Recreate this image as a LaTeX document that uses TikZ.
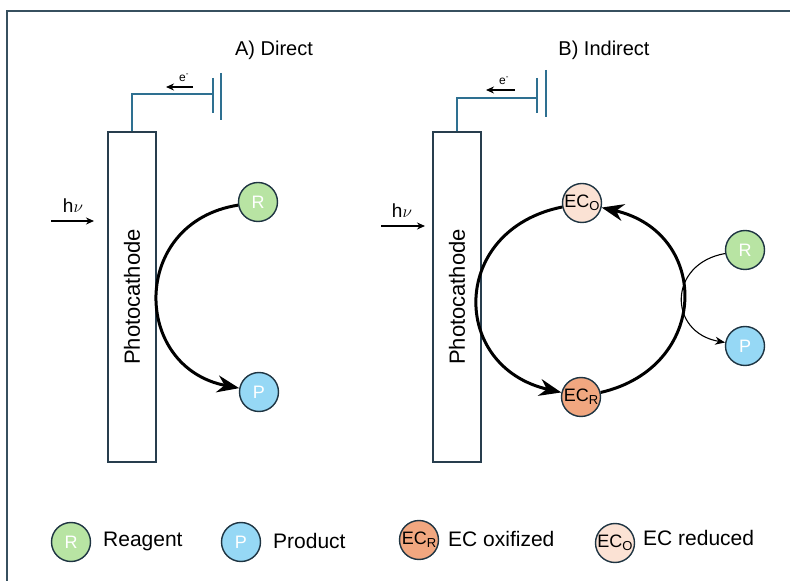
\documentclass[tikz,border=0pt]{standalone}
\usepackage{fontspec}
\setmainfont{Liberation Sans}
\usetikzlibrary{arrows.meta}

\definecolor{wire}{RGB}{46,112,145}
\definecolor{edge}{RGB}{30,52,66}
\definecolor{boxedge}{RGB}{40,62,78}
\definecolor{framecol}{RGB}{55,80,95}
\definecolor{reagent}{RGB}{184,228,163}
\definecolor{product}{RGB}{150,216,245}
\definecolor{ecred}{RGB}{241,167,128}
\definecolor{ecox}{RGB}{251,226,212}

\newcommand{\fsz}[1]{\fontsize{#1}{#1}\selectfont}
\newcommand{\ecsub}[1]{EC\raisebox{-0.35ex}{\fsz{13}#1}}

\begin{document}
\begin{tikzpicture}[x=1pt,y=1pt,
  species/.style={circle, draw=edge, line width=1.4pt, minimum size=39pt, inner sep=0pt},
  letter/.style={text=white, font=\fsz{18}},
  ectext/.style={text=black, font=\fsz{18}, inner sep=0pt},
  cathode/.style={rectangle, draw=boxedge, line width=1.3pt, minimum width=48pt, minimum height=330pt, inner sep=0pt},
  wireline/.style={draw=wire, line width=1.5pt},
  cycle/.style={draw=black, line width=3pt, -{Stealth[length=22pt,width=17pt]}},
  thinflow/.style={draw=black, line width=1.1pt, -{Stealth[length=10pt,width=8pt]}},
  eflow/.style={draw=black, line width=1.4pt, -{Stealth[length=8pt,width=7pt]}},
  lightarrow/.style={draw=black, line width=1.3pt, -{Stealth[length=8pt,width=7pt]}},
  title/.style={font=\fsz{20}},
  legendtext/.style={font=\fsz{21}, anchor=west, inner sep=0pt},
]
\useasboundingbox (0,0) rectangle (790,581);

% frame
\draw[framecol, line width=1.5pt] (790,570) -- (7,570) -- (7,0);

% ---------- A) Direct ----------
\node[title] (titleA) at (274,531) {A) Direct};
\node[cathode] (cathA) at (132,284) {};
\node[rotate=90, font=\fsz{22}] (labA) at (cathA.center) {Photocathode};

\coordinate (cornerA) at (132,487);
\coordinate (plateA1) at (213,487);
\coordinate (plateA1t) at (213,503);
\coordinate (plateA1b) at (213,468);
\coordinate (plateA2t) at (221,508);
\coordinate (plateA2b) at (221,461);
\draw[wireline] (cathA.north) -- (cornerA) -- (plateA1);
\draw[wireline] (plateA1t) -- (plateA1b);
\draw[wireline] (plateA2t) -- (plateA2b);

\coordinate (eAs) at (193,494);
\coordinate (eAe) at (166,494);
\draw[eflow] (eAs) -- (eAe);
\node[font=\fsz{12}, inner sep=0pt] (eA) at (184,503) {e\textsuperscript{-}};

\coordinate (hvAs) at (51,360);
\coordinate (hvAe) at (94,360);
\draw[lightarrow] (hvAs) -- (hvAe);
\node[font=\fsz{19}] (hvA) at (73,375) {h$\nu$};

\node[species, fill=reagent] (RA) at (258,379) {};
\node[letter] at (RA) {R};
\node[species, fill=product] (PA) at (259,189) {};
\node[letter] at (PA) {P};
\draw[cycle] (RA) to[out=189, in=169, looseness=1.53] (PA);

% ---------- B) Indirect ----------
\node[title] (titleB) at (604,531) {B) Indirect};
\node[cathode] (cathB) at (457,284) {};
\node[rotate=90, font=\fsz{22}] (labB) at (cathB.center) {Photocathode};

\coordinate (cornerB) at (457,483);
\coordinate (plateB1) at (537,483);
\coordinate (plateB1t) at (537,503);
\coordinate (plateB1b) at (537,468);
\coordinate (plateB2t) at (546,511);
\coordinate (plateB2b) at (546,464);
\draw[wireline] (cathB.north) -- (cornerB) -- (plateB1);
\draw[wireline] (plateB1t) -- (plateB1b);
\draw[wireline] (plateB2t) -- (plateB2b);

\coordinate (eBs) at (515,491);
\coordinate (eBe) at (486,491);
\draw[eflow] (eBs) -- (eBe);
\node[font=\fsz{12}, inner sep=0pt] (eB) at (504,500) {e\textsuperscript{-}};

\coordinate (hvBs) at (381,355);
\coordinate (hvBe) at (425,355);
\draw[lightarrow] (hvBs) -- (hvBe);
\node[font=\fsz{19}] (hvB) at (402,370) {h$\nu$};

\node[species, fill=ecox] (ECO) at (582,378) {};
\node[ectext] at (ECO) {\ecsub{O}};
\node[species, fill=ecred] (ECR) at (581,184) {};
\node[ectext] at (ECR) {\ecsub{R}};
\node[species, fill=reagent] (RB) at (745,331) {};
\node[letter] at (RB) {R};
\node[species, fill=product] (PB) at (745,235) {};
\node[letter] at (PB) {P};

\draw[cycle] (ECO) to[out=191.5, in=167, looseness=1.58] (ECR);
\draw[cycle] (ECR) to[out=13, in=-13, looseness=1.55] (ECO);
\draw[thinflow] (RB) to[out=190, in=170, looseness=1.68] (PB);

% ---------- legend ----------
\node[species, fill=reagent] (legR) at (71,39) {};
\node[letter] at (legR) {R};
\node[legendtext] (legRt) at (103,40) {Reagent};
\node[species, fill=product] (legP) at (241,39) {};
\node[letter] at (legP) {P};
\node[legendtext] (legPt) at (273,40) {Product};
\node[species, fill=ecred] (legECR) at (419,41) {};
\node[ectext] at (legECR) {\ecsub{R}};
\node[legendtext] (legECRt) at (448,42) {EC oxifized};
\node[species, fill=ecox] (legECO) at (615,38) {};
\node[ectext] at (legECO) {\ecsub{O}};
\node[legendtext] (legECOt) at (643,43) {EC reduced};
\end{tikzpicture}
\end{document}
